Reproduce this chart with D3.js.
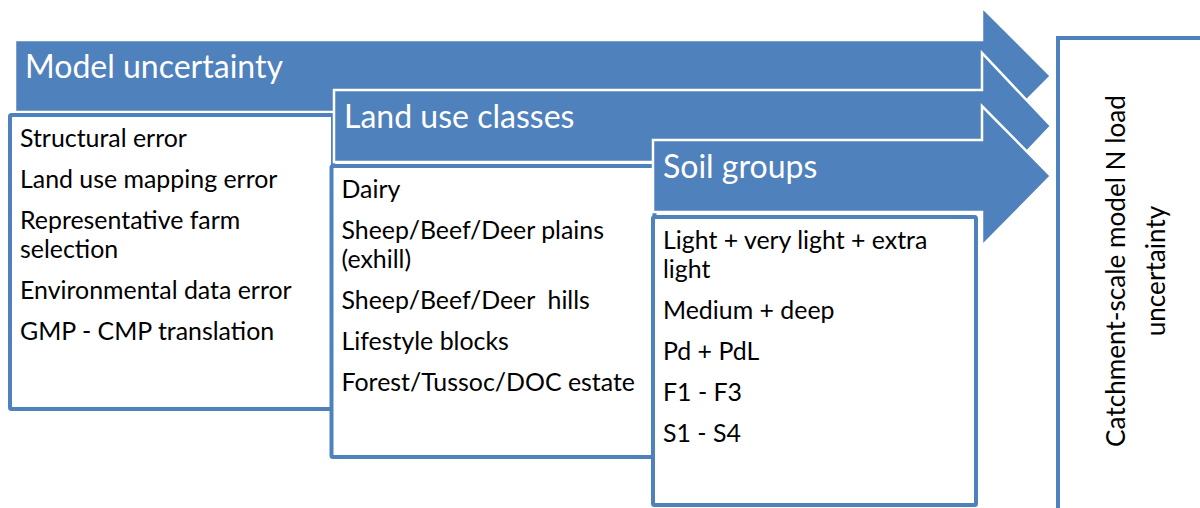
<!DOCTYPE html>
<html>
<head>
<meta charset="utf-8">
<script src="https://cdn.jsdelivr.net/npm/d3@7"></script>
<style>
  body { margin: 0; background: #fff; }
  svg { display: block; }
  text { font-family: Lato, "Open Sans", sans-serif; white-space: pre; }
</style>
</head>
<body>
<svg id="chart" width="1200" height="508"></svg>
<script>
// stages of the uncertainty cascade
var stages = ["Model uncertainty", "Land use classes", "Soil groups"];

// items listed under each stage ("\n" = wrapped line)
var modelItems = ["Structural error", "Land use mapping error", "Representative farm\nselection",
  "Environmental data error", "GMP - CMP translation"];
var landUseItems = ["Dairy", "Sheep/Beef/Deer plains\n(exhill)", "Sheep/Beef/Deer  hills",
  "Lifestyle blocks", "Forest/Tussoc/DOC estate"];
var soilItems = ["Light + very light + extra\nlight", "Medium + deep", "Pd + PdL", "F1 - F3", "S1 - S4"];
var stageItems = [modelItems, landUseItems, soilItems];

var outcome = ["Catchment-scale model N load", "uncertainty"];

var blue = "#4f81bd";
var svg = d3.select("#chart");

// layout scales (stage index -> pixels)
var idx = [0, 2];
var arrowLeft = d3.scaleLinear().domain(idx).range([15, 653]);
var arrowTop = d3.scaleLinear().domain(idx).range([40, 140]);
var boxLeft = d3.scaleLinear().domain(idx).range([10, 653]);
var boxTop = d3.scaleLinear().domain(idx).range([115, 217]);
var boxBottom = d3.scaleLinear().domain(idx).range([409, 505]);
var bodyH = 72, headX = 982, tipX = 1051, headHalf = [69, 73, 70], boxW = 323;

// calibrate font so widths follow the Calibri original
function fit(str, target, base) {
  var t = svg.append("text").attr("font-size", base).text(str);
  var w = t.node().getComputedTextLength();
  t.remove();
  return base * target / w;
}
var headSize = fit("Model uncertainty", 258, 30);
var itemSize = fit("Structural error", 167, 22);
var outSize = fit(outcome[0], 352, 24);

stages.forEach(function(name, i) {
  var x0 = arrowLeft(i), y0 = arrowTop(i), y1 = y0 + bodyH, cy = (y0 + y1) / 2;
  var pts = [[x0, y0], [headX, y0], [headX, cy - headHalf[i]], [tipX, cy],
             [headX, cy + headHalf[i]], [headX, y1], [x0, y1]];
  svg.append("path")
    .attr("d", d3.line()(pts) + "Z")
    .attr("fill", blue)
    .attr("stroke", "#fff")
    .attr("stroke-width", 2.5)
    .attr("stroke-linejoin", "miter");

  svg.append("text")
    .attr("x", x0 + 10)
    .attr("y", y0 + 38)
    .attr("font-size", headSize)
    .attr("fill", "#fff")
    .text(name);

  var bx = boxLeft(i), by = boxTop(i);
  svg.append("rect")
    .attr("x", bx).attr("y", by)
    .attr("width", boxW).attr("height", boxBottom(i) - by)
    .attr("rx", 1.5)
    .attr("fill", "#fff")
    .attr("stroke", blue)
    .attr("stroke-width", 4);

  var ty = by + 32;
  var g = svg.append("text").attr("font-size", itemSize).attr("fill", "#000");
  stageItems[i].forEach(function(item) {
    item.split("\n").forEach(function(line, k) {
      if (k > 0) ty += 29;
      g.append("tspan").attr("x", bx + 10).attr("y", ty).text(line);
    });
    ty += 41;
  });
});

// outcome box on the right
svg.append("path")
  .attr("d", "M1058,512V38H1210")
  .attr("fill", "none")
  .attr("stroke", blue)
  .attr("stroke-width", 4);

var og = svg.append("g").attr("transform", "translate(1145,271) rotate(-90)");
og.selectAll("text")
  .data(outcome)
  .join("text")
  .attr("x", 0)
  .attr("y", function(d, i) { return i === 0 ? -20 : 20; })
  .attr("text-anchor", "middle")
  .attr("font-size", outSize)
  .attr("fill", "#000")
  .text(function(d) { return d; });
</script>
</body>
</html>
